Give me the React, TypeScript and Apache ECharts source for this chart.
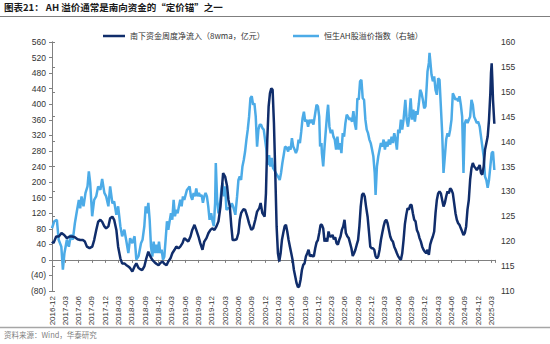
import React, { useEffect, useRef } from 'react';
import * as echarts from 'echarts';

const TITLE = '图表21： AH 溢价通常是南向资金的“定价锚”之一';
const SOURCE = '资料来源：Wind，华泰研究';
const FLOW_NAME = '南下资金周度净流入（8wma，亿元）';
const PREMIUM_NAME = '恒生AH股溢价指数（右轴）';

// quarterly tick labels; x values are months counted from 2016-12
const xTickLabels = [
  '2016-12', '2017-03', '2017-06', '2017-09', '2017-12', '2018-03', '2018-06', '2018-09',
  '2018-12', '2019-03', '2019-06', '2019-09', '2019-12', '2020-03', '2020-06', '2020-09',
  '2020-12', '2021-03', '2021-06', '2021-09', '2021-12', '2022-03', '2022-06', '2022-09',
  '2022-12', '2023-03', '2023-06', '2023-09', '2023-12', '2024-03', '2024-06', '2024-09',
  '2024-12', '2025-03',
];

// Southbound weekly net inflow, 8-week moving average (100m CNY) : [month, value]
const flowPoints: number[][] = [
  [0, 47], [0.34, 43], [0.94, 60], [1.54, 60], [2.14, 69], [2.75, 64], [3.35, 56], [3.95, 60],
  [4.55, 60], [5.15, 58], [5.76, 53], [6.36, 51], [6.96, 51], [7.41, 47], [7.86, 34], [8.46, 30],
  [9.07, 34], [9.5, 51], [9.97, 77], [10.4, 98], [10.9, 103], [11.3, 98], [11.8, 86], [12.2, 81],
  [12.7, 86], [13.1, 107], [13.6, 111], [14.0, 103], [14.5, 77], [14.9, 34], [15.4, 4], [15.8, -9],
  [16.3, -9], [16.7, -13], [17.2, -17], [17.6, -21], [18.1, -30], [18.6, -17], [19.0, -9], [19.5, -21],
  [19.9, -24], [20.35, -26], [20.8, -17], [21.25, 4], [21.7, 21], [22.15, 9], [22.6, 0], [23.1, -6],
  [23.5, -10], [24.0, -14], [24.4, -8], [24.9, -4], [25.3, -10], [25.8, -14], [26.2, -4], [26.7, 4],
  [27.1, 17], [27.6, 26], [28.0, 34], [28.5, 30], [28.9, 34], [29.4, 43], [29.8, 56], [30.3, 51],
  [30.7, 47], [31.2, 60], [31.6, 77], [32.1, 90], [32.5, 77], [33.0, 60], [33.4, 43], [33.9, 26],
  [34.3, 47], [34.8, 56], [35.25, 69], [35.7, 77], [36.1, 81], [36.6, 77], [37.05, 86], [37.5, 99],
  [37.95, 137], [38.25, 180], [38.55, 223], [39.0, 214], [39.45, 189], [39.75, 154], [40.06, 137], [40.4, 86],
  [40.7, 51], [41.1, 51], [41.6, 53], [42.0, 69], [42.3, 103], [42.6, 120], [43.1, 130], [43.5, 129],
  [44.0, 111], [44.4, 94], [44.9, 77], [45.3, 81], [45.8, 103], [46.2, 124], [46.7, 133], [47.0, 146],
  [47.4, 120], [47.9, 111], [48.2, 171], [48.5, 308], [48.8, 394], [49.1, 428], [49.4, 441], [49.7, 437],
  [50.0, 351], [50.3, 223], [50.6, 86], [50.9, 17], [51.2, -4], [51.5, 17], [51.8, 51], [52.1, 69],
  [52.4, 86], [52.7, 90], [53.0, 73], [53.3, 51], [53.6, 34], [53.9, 17], [54.2, 0], [54.5, -26],
  [54.8, -43], [55.1, -60], [55.4, -70], [55.7, -68], [56.0, -51], [56.3, -26], [56.6, -13], [56.9, -9],
  [57.2, 9], [57.5, 17], [57.8, 26], [58.1, 9], [58.4, 13], [58.7, 9], [59.0, 10], [59.3, 30],
  [59.6, 45], [59.9, 51], [60.2, 69], [60.5, 90], [60.8, 90], [61.1, 81], [61.4, 47], [61.7, 56],
  [62.0, 47], [62.3, 73], [62.6, 60], [62.9, 60], [63.2, 64], [63.5, 53], [63.8, 58], [64.1, 43],
  [64.4, 39], [64.7, 51], [65.0, 60], [65.3, 77], [65.6, 86], [65.9, 103], [66.2, 69], [66.55, 60],
  [66.85, 56], [67.15, 43], [67.45, 30], [67.75, 10], [68.05, 17], [68.35, 26], [68.65, 39], [68.95, 51],
  [69.25, 86], [69.55, 137], [69.85, 167], [70.15, 171], [70.45, 163], [70.75, 137], [71.1, 111], [71.4, 73],
  [71.7, 34], [72.0, 30], [72.3, 30], [72.6, 26], [72.9, 9], [73.2, 4], [73.5, 9], [73.8, 26],
  [74.1, 51], [74.4, 69], [74.7, 86], [75.0, 99], [75.3, 103], [75.6, 94], [75.9, 77], [76.2, 60],
  [76.5, 51], [76.8, 47], [77.1, 34], [77.4, 26], [77.7, 17], [78.0, 9], [78.3, 4], [78.6, 0],
  [78.9, 17], [79.2, 51], [79.5, 92], [79.8, 115], [80.1, 133], [80.4, 129], [80.7, 141], [81.0, 141],
  [81.3, 120], [81.6, 103], [81.9, 99], [82.2, 77], [82.5, 69], [82.8, 56], [83.1, 47], [83.4, 34],
  [83.7, 26], [84.0, 21], [84.3, 17], [84.6, 26], [84.9, 13], [85.2, 39], [85.5, 51], [85.8, 60],
  [86.1, 73], [86.4, 120], [86.7, 154], [87.0, 171], [87.3, 176], [87.6, 171], [87.9, 154], [88.2, 137],
  [88.5, 146], [88.8, 163], [89.1, 176], [89.4, 171], [89.7, 184], [90.0, 180], [90.3, 171], [90.6, 146],
  [90.9, 120], [91.2, 103], [91.5, 94], [91.8, 90], [92.1, 81], [92.4, 73], [92.7, 64], [93.0, 69],
  [93.3, 86], [93.6, 129], [93.9, 154], [94.2, 206], [94.5, 236], [94.8, 249], [95.1, 240], [95.4, 236],
  [95.7, 231], [96.0, 236], [96.35, 244], [96.65, 223], [96.95, 219], [97.25, 240], [97.55, 283], [97.85, 300],
  [98.15, 317], [98.45, 360], [98.75, 428], [98.9, 480], [99.05, 505], [99.2, 463], [99.35, 411], [99.65, 350],
];

// Hang Seng AH premium index (right axis) : [month, value]
const premiumPoints: number[][] = [
  [0, 122.6], [0.5, 124.0], [1.1, 124.3], [1.5, 120.3], [2.1, 118.9], [2.45, 114.3], [2.8, 117.6], [3.35, 120.3],
  [3.8, 118.9], [4.25, 121.3], [4.7, 120.3], [5.15, 123.6], [5.6, 126.0], [6.05, 128.3], [6.35, 126.6], [6.65, 129.0],
  [7.1, 127.0], [7.55, 129.7], [8.0, 131.0], [8.3, 134.0], [8.6, 131.7], [9.05, 125.0], [9.5, 128.3], [9.95, 129.0],
  [10.4, 131.0], [10.9, 130.3], [11.3, 132.5], [11.8, 129.7], [12.2, 129.0], [12.7, 127.0], [13.1, 131.0], [13.6, 127.6],
  [14.0, 128.0], [14.5, 125.3], [14.9, 127.0], [15.4, 123.0], [15.8, 121.0], [16.3, 122.3], [16.7, 120.3], [17.2, 117.6],
  [17.6, 120.6], [18.1, 119.6], [18.6, 121.0], [19.0, 116.3], [19.5, 117.0], [20.05, 119.6], [20.4, 120.3], [20.8, 123.0],
  [21.1, 127.0], [21.4, 125.6], [21.7, 127.7], [22.0, 124.3], [22.3, 118.9], [22.6, 116.9], [22.9, 119.9], [23.2, 117.6],
  [23.5, 119.3], [23.8, 117.6], [24.1, 119.9], [24.4, 117.6], [24.7, 118.3], [25.0, 116.3], [25.3, 116.9], [25.6, 120.3],
  [25.9, 124.0], [26.2, 122.3], [26.5, 124.0], [26.8, 125.6], [27.1, 124.3], [27.4, 128.3], [27.7, 125.0], [28.0, 126.3],
  [28.3, 125.6], [28.6, 127.0], [28.9, 128.3], [29.2, 127.0], [29.5, 129.0], [29.8, 128.3], [30.4, 130.3], [31.0, 131.0],
  [31.3, 129.0], [31.6, 128.3], [31.9, 129.7], [32.2, 129.0], [32.5, 130.6], [32.8, 129.0], [33.1, 129.7], [33.4, 129.0],
  [33.7, 129.3], [34.0, 127.7], [34.3, 129.0], [34.6, 129.7], [34.9, 129.0], [35.2, 127.0], [35.5, 124.3], [35.85, 125.6],
  [36.1, 124.3], [36.45, 123.0], [36.75, 127.7], [36.9, 135.7], [37.2, 128.3], [37.5, 125.6], [37.8, 127.0], [38.1, 129.7],
  [38.4, 131.7], [38.7, 129.0], [39.0, 131.0], [39.3, 126.3], [39.6, 126.6], [40.06, 126.6], [40.5, 127.6], [40.8, 127.0],
  [41.3, 125.3], [41.7, 129.0], [42.0, 132.3], [42.3, 133.0], [42.6, 132.3], [42.9, 135.0], [43.2, 136.3], [43.5, 138.0],
  [43.8, 140.4], [44.1, 142.4], [44.4, 145.0], [44.7, 148.7], [45.0, 149.1], [45.3, 147.4], [45.6, 147.7], [45.9, 145.0],
  [46.2, 139.0], [46.5, 142.4], [46.8, 143.4], [47.1, 143.4], [47.4, 142.7], [47.7, 142.4], [48.0, 140.4], [48.3, 138.4],
  [48.6, 135.3], [48.9, 137.3], [49.2, 135.0], [49.5, 136.7], [49.8, 134.7], [50.1, 134.3], [50.4, 133.7], [50.9, 133.0],
  [51.3, 132.3], [51.6, 133.7], [51.9, 135.7], [52.2, 137.3], [52.5, 139.0], [52.9, 138.7], [53.2, 138.0], [53.4, 139.0],
  [53.75, 138.4], [54.05, 140.7], [54.35, 139.0], [54.65, 138.4], [54.95, 137.7], [55.25, 138.4], [55.55, 140.4], [55.85, 139.7],
  [56.15, 142.0], [56.45, 144.7], [56.75, 146.0], [57.05, 144.0], [57.35, 144.4], [57.7, 143.0], [58.0, 144.4], [58.3, 143.7],
  [58.6, 144.4], [58.9, 143.4], [59.3, 145.7], [59.6, 147.4], [59.9, 147.1], [60.2, 145.0], [60.4, 139.0], [60.7, 139.7],
  [60.8, 137.7], [61.1, 135.0], [61.4, 139.0], [61.7, 142.4], [62.0, 145.7], [62.2, 147.4], [62.5, 143.0], [62.8, 141.7],
  [63.1, 142.4], [63.4, 141.0], [63.7, 140.4], [64.0, 138.4], [64.3, 141.0], [64.6, 138.4], [64.9, 139.7], [65.2, 137.7],
  [65.5, 141.7], [65.8, 141.0], [66.1, 143.7], [66.4, 145.4], [66.7, 145.0], [67.0, 144.4], [67.3, 144.7], [67.6, 144.0],
  [67.9, 146.1], [68.2, 143.7], [68.5, 142.4], [68.8, 148.7], [69.1, 148.4], [69.4, 152.1], [69.7, 152.4], [70.0, 148.7],
  [70.3, 148.4], [70.6, 144.4], [70.9, 142.4], [71.2, 141.7], [71.5, 140.4], [71.8, 139.7], [72.1, 138.4], [72.4, 137.0],
  [72.7, 133.7], [72.9, 129.3], [73.2, 135.0], [73.5, 137.0], [73.8, 138.4], [74.1, 139.7], [74.4, 139.0], [74.7, 140.4],
  [75.0, 138.4], [75.3, 140.0], [75.6, 139.0], [75.9, 140.4], [76.2, 139.4], [76.5, 141.0], [76.8, 139.7], [77.1, 141.7],
  [77.4, 140.4], [77.7, 138.4], [78.0, 142.4], [78.3, 141.7], [78.6, 144.4], [78.9, 142.4], [79.2, 144.4], [79.6, 148.4],
  [79.9, 144.4], [80.2, 143.0], [80.5, 145.0], [80.8, 148.7], [81.1, 144.4], [81.4, 146.4], [81.75, 144.0], [82.05, 146.1],
  [82.35, 145.4], [82.65, 147.7], [82.95, 150.4], [83.25, 149.7], [83.55, 148.4], [83.85, 146.7], [84.15, 147.1], [84.45, 151.7],
  [84.6, 154.1], [84.9, 155.8], [85.05, 157.8], [85.2, 156.4], [85.5, 153.4], [85.8, 152.1], [86.1, 153.1], [86.4, 150.4],
  [86.7, 149.4], [87.0, 152.7], [87.3, 152.4], [87.6, 147.1], [87.9, 141.7], [88.2, 133.7], [88.5, 137.0], [88.8, 140.4],
  [89.1, 141.7], [89.4, 141.0], [89.7, 142.4], [90.0, 144.4], [90.3, 149.7], [90.6, 149.1], [90.9, 148.4], [91.2, 148.7],
  [91.5, 148.1], [91.8, 149.1], [92.1, 147.4], [92.4, 145.0], [92.7, 133.7], [93.0, 143.7], [93.3, 144.4], [93.6, 143.7],
  [93.9, 144.4], [94.2, 145.0], [94.5, 148.4], [94.8, 147.4], [95.1, 145.0], [95.4, 144.4], [95.7, 143.7], [96.0, 144.0],
  [96.35, 143.0], [96.65, 141.0], [96.95, 139.0], [97.25, 137.0], [97.55, 133.0], [97.85, 132.3], [98.15, 130.7], [98.45, 132.3],
  [98.75, 135.0], [99.05, 137.7], [99.35, 138.0], [99.65, 134.3],
];

const NUM_FONT = 'Liberation Sans, Arial, sans-serif';
const CJK_FONT = 'Noto Sans CJK SC, sans-serif';
const NAVY = '#102d6b';
const SKY = '#4cabe7';
const AXIS_GRAY = '#808080';

export default function App() {
  const ref = useRef<HTMLDivElement>(null);

  useEffect(() => {
    if (!ref.current) return;
    const chart = echarts.init(ref.current, undefined, { renderer: 'svg' });

    const xLabelFormatter = (v: number) => {
      const i = Math.round(v / 3);
      if (Math.abs(v - i * 3) > 1e-6) return '';
      return xTickLabels[i] ?? '';
    };

    chart.setOption({
      animation: false,
      backgroundColor: '#ffffff',
      grid: { left: 52, right: 55, top: 42, bottom: 53, containLabel: false },
      legend: [
        {
          data: [FLOW_NAME],
          left: 98,
          top: 27,
          icon: 'rect',
          itemWidth: 22,
          itemHeight: 2.5,
          textStyle: { fontSize: 8, color: '#333', fontFamily: CJK_FONT },
        },
        {
          data: [PREMIUM_NAME],
          left: 288,
          top: 27,
          icon: 'rect',
          itemWidth: 26,
          itemHeight: 2.5,
          textStyle: { fontSize: 8, color: '#333', fontFamily: CJK_FONT },
        },
      ],
      xAxis: [
        {
          type: 'value',
          min: 0,
          max: 99.8,
          interval: 3,
          axisLine: { show: false },
          axisTick: { show: false },
          splitLine: { show: false },
          axisLabel: {
            rotate: 90,
            fontSize: 8,
            color: '#333',
            fontFamily: NUM_FONT,
            margin: 5,
            showMaxLabel: false,
            formatter: xLabelFormatter,
          },
        },
        {
          type: 'value',
          min: 0,
          max: 99.8,
          interval: 3,
          position: 'bottom',
          axisLine: { show: true, onZero: true, onZeroAxisIndex: 0, lineStyle: { color: AXIS_GRAY, width: 1 } },
          axisTick: { show: true, length: 3, lineStyle: { color: AXIS_GRAY } },
          axisLabel: { show: false },
          splitLine: { show: false },
        },
      ],
      yAxis: [
        {
          type: 'value',
          min: -80,
          max: 560,
          interval: 40,
          position: 'left',
          axisLine: { show: true, lineStyle: { color: AXIS_GRAY } },
          axisTick: { show: true, length: 3, lineStyle: { color: AXIS_GRAY } },
          splitLine: { show: false },
          axisLabel: {
            fontSize: 8.5,
            color: '#333',
            fontFamily: NUM_FONT,
            margin: 6,
            formatter: (v: number) => (v < 0 ? `(${-v})` : `${v}`),
          },
        },
        {
          type: 'value',
          min: 110,
          max: 160,
          interval: 5,
          position: 'right',
          axisLine: { show: true, lineStyle: { color: AXIS_GRAY } },
          axisTick: { show: true, length: 3, lineStyle: { color: AXIS_GRAY } },
          splitLine: { show: false },
          axisLabel: { fontSize: 8.5, color: '#333', fontFamily: NUM_FONT, margin: 6 },
        },
      ],
      series: [
        {
          name: PREMIUM_NAME,
          type: 'line',
          xAxisIndex: 0,
          yAxisIndex: 1,
          data: premiumPoints,
          showSymbol: false,
          symbol: 'none',
          lineStyle: { color: SKY, width: 2.5 },
          itemStyle: { color: SKY },
          z: 2,
        },
        {
          name: FLOW_NAME,
          type: 'line',
          xAxisIndex: 0,
          yAxisIndex: 0,
          data: flowPoints,
          showSymbol: false,
          symbol: 'none',
          lineStyle: { color: NAVY, width: 2.5 },
          itemStyle: { color: NAVY },
          z: 3,
        },
      ],
      graphic: [
        {
          type: 'text',
          left: 4,
          top: 2,
          style: { text: TITLE, fontSize: 9.5, fontWeight: 'bold', fill: '#1a1a1a', fontFamily: CJK_FONT },
        },
        {
          type: 'line',
          shape: { x1: 0, y1: 16.5, x2: 550, y2: 16.5 },
          style: { stroke: '#7f7f7f', lineWidth: 1 },
        },
        {
          type: 'line',
          shape: { x1: 0, y1: 327.5, x2: 550, y2: 327.5 },
          style: { stroke: '#a6a6a6', lineWidth: 1.5 },
        },
        {
          type: 'text',
          left: 4,
          top: 331,
          style: { text: SOURCE, fontSize: 7.5, fill: '#7f7f7f', fontFamily: CJK_FONT },
        },
      ],
    });

    return () => chart.dispose();
  }, []);

  return (
    <div
      ref={ref}
      style={{ position: 'fixed', left: 0, top: 0, width: 550, height: 344, background: '#fff' }}
    />
  );
}
